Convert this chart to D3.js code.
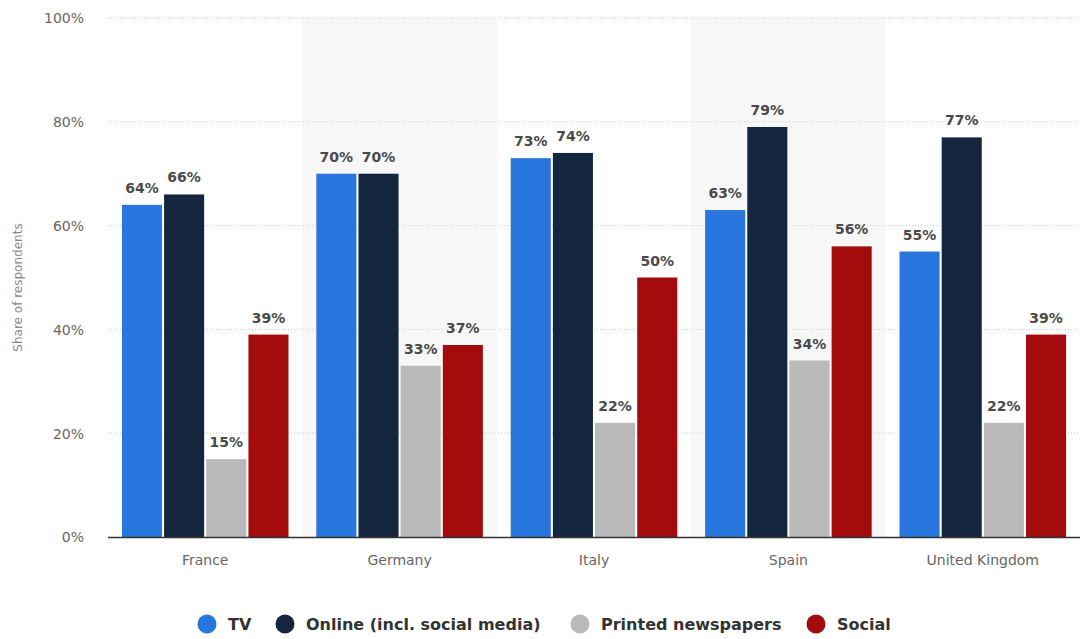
<!DOCTYPE html>
<html><head><meta charset="utf-8">
<script src="https://cdn.jsdelivr.net/npm/d3@7"></script>
<style>body{margin:0;background:#fff;font-family:"DejaVu Sans",sans-serif;}</style>
</head><body><svg id="c" width="1087" height="639"></svg>
<script>
const categories = ["France","Germany","Italy","Spain","United Kingdom"];
const seriesNames = ["TV","Online (incl. social media)","Printed newspapers","Social"];
const tv = [64,70,73,63,55];
const online = [66,70,74,79,77];
const printed = [15,33,22,34,22];
const social = [39,37,50,56,39];
const yTicks = [0,20,40,60,80,100];
const colors = ["#2876dd","#14263d","#b9b9b9","#a30b0d"];
const seriesValues = [tv, online, printed, social];

const svg = d3.select("#c");
const m = {l:108, r:1080, t:18, b:537};
const x = d3.scaleBand().domain(categories).range([m.l, m.r]).paddingInner(0).paddingOuter(0);
const xs = d3.scaleBand().domain(seriesNames).range([0, x.bandwidth()]).paddingInner(0.05).paddingOuter(0.33);
const y = d3.scaleLinear().domain([0,100]).range([m.b, m.t]);

svg.selectAll("rect.band").data(categories.filter((d,i)=>i%2===1)).enter().append("rect")
  .attr("x", d=>x(d)).attr("y", m.t).attr("width", x.bandwidth()).attr("height", m.b-m.t)
  .attr("fill","#f7f7f7");

svg.selectAll("line.grid").data(yTicks.filter(d=>d>0)).enter().append("line")
  .attr("x1", m.l).attr("x2", m.r).attr("y1", d=>y(d)).attr("y2", d=>y(d))
  .attr("stroke","#c8c8c8").attr("stroke-dasharray","1,2").attr("stroke-width",1);

const yAxis = d3.axisLeft(y).tickValues(yTicks).tickFormat(d=>d+"%").tickSize(0).tickPadding(0);
const ya = svg.append("g").attr("transform",`translate(${m.l-24},0)`).call(yAxis);
ya.select(".domain").remove();
ya.selectAll("text").attr("fill","#666").style("font-size","14px").style("font-family","'DejaVu Sans',sans-serif").attr("dy","0.35em");

svg.append("text").attr("transform",`translate(22,${(m.t+m.b)/2+10}) rotate(-90)`)
  .attr("text-anchor","middle").attr("fill","#888").style("font-size","12px").style("font-family","'DejaVu Sans',sans-serif").text("Share of respondents");

const groups = svg.selectAll("g.grp").data(categories).enter().append("g")
  .attr("transform", d=>`translate(${x(d)},0)`);
seriesNames.forEach((s, si) => {
  groups.append("rect")
    .attr("x", xs(s)).attr("width", xs.bandwidth())
    .attr("y", (d,i)=>y(seriesValues[si][i])).attr("height",(d,i)=>m.b - y(seriesValues[si][i]))
    .attr("fill", colors[si]);
  groups.append("text")
    .attr("x", xs(s)+xs.bandwidth()/2).attr("y",(d,i)=>y(seriesValues[si][i])-12)
    .attr("text-anchor","middle").attr("fill","#4a4a4a").style("font-size","14px").style("font-weight","bold")
    .style("font-family","'DejaVu Sans',sans-serif")
    .text((d,i)=>seriesValues[si][i]+"%");
});

svg.append("line").attr("x1",m.l).attr("x2",m.r).attr("y1",m.b+0.5).attr("y2",m.b+0.5).attr("stroke","#333").attr("stroke-width",1.5);

const xAxis = d3.axisBottom(x).tickSize(0).tickPadding(18);
const xa = svg.append("g").attr("transform",`translate(0,${m.b})`).call(xAxis);
xa.select(".domain").remove();
xa.selectAll("text").attr("fill","#666").style("font-size","14px").style("font-family","'DejaVu Sans',sans-serif");

const legX = [207, 285, 580, 816];
const leg = svg.selectAll("g.leg").data(seriesNames).enter().append("g")
  .attr("transform",(d,i)=>`translate(${legX[i]},624)`);
leg.append("circle").attr("r",9.5).attr("fill",(d,i)=>colors[i]);
leg.append("text").attr("x",21).attr("dy","0.36em").attr("fill","#333")
  .style("font-size","16px").style("font-weight","bold").style("font-family","'DejaVu Sans',sans-serif").text(d=>d);
</script></body></html>
